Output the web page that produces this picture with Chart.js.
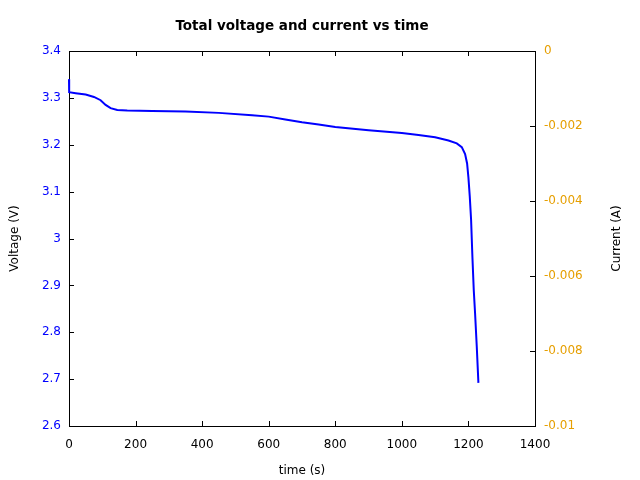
<!DOCTYPE html>
<html>
<head>
<meta charset="utf-8">
<script src="https://cdn.jsdelivr.net/npm/chart.js@4/dist/chart.umd.min.js"></script>
<style>
  html, body { margin: 0; padding: 0; background: #fff; }
  #wrap { width: 640px; height: 480px; }
</style>
</head>
<body>
<div id="wrap"><canvas id="c" width="640" height="480"></canvas></div>
<script>
// time (s) and total voltage (V)
const times = [0, 0.5, 20, 50, 75, 95, 110, 125, 145, 175, 250, 350, 450, 550, 600, 650, 700, 750,
  800, 900, 1000, 1050, 1100, 1140, 1165, 1180, 1190, 1196, 1200, 1204, 1208, 1212, 1216, 1220, 1225, 1230];
const volts = [3.340, 3.312, 3.310, 3.307, 3.302, 3.295, 3.285, 3.278, 3.274, 3.273, 3.272, 3.271, 3.268,
  3.263, 3.260, 3.254, 3.248, 3.243, 3.238, 3.231, 3.225, 3.221, 3.216, 3.209, 3.203, 3.195, 3.180,
  3.160, 3.130, 3.090, 3.040, 2.960, 2.890, 2.840, 2.770, 2.692];

const xRange = [0, 1400, 200];
const vRange = [2.6, 3.4, 0.1];
const iRange = [-0.01, 0, 0.002];

const TITLE = "Total voltage and current vs time";
const Y2_TITLE = "Current (A)";

const BLUE = "#0000ff";
const ORANGE = "#e69f00";
const FONT = "'DejaVu Sans', sans-serif";

// gnuplot-style frame with inward tick marks, plus the title and the
// right-hand axis label (which reads bottom-to-top like the left one)
const framePlugin = {
  id: "frame",
  beforeDatasetsDraw(chart) {
    const { ctx, chartArea: a, scales } = chart;
    const len = 5;
    ctx.save();
    ctx.strokeStyle = "#000";
    ctx.lineWidth = 1;
    ctx.beginPath();
    scales.x.ticks.forEach((t) => {
      const px = Math.round(scales.x.getPixelForValue(t.value)) + 0.5;
      ctx.moveTo(px, a.bottom); ctx.lineTo(px, a.bottom - len);
      ctx.moveTo(px, a.top); ctx.lineTo(px, a.top + len);
    });
    scales.y.ticks.forEach((t) => {
      const py = Math.round(scales.y.getPixelForValue(t.value)) + 0.5;
      ctx.moveTo(a.left, py); ctx.lineTo(a.left + len, py);
    });
    scales.y2.ticks.forEach((t) => {
      const py = Math.round(scales.y2.getPixelForValue(t.value)) + 0.5;
      ctx.moveTo(a.right, py); ctx.lineTo(a.right - len, py);
    });
    ctx.stroke();
    ctx.strokeRect(Math.round(a.left) + 0.5, Math.round(a.top) + 0.5,
      Math.round(a.right - a.left), Math.round(a.bottom - a.top));

    ctx.fillStyle = "#000";
    ctx.textAlign = "center";
    ctx.textBaseline = "middle";
    ctx.font = "bold 13.5px " + FONT;
    ctx.fillText(TITLE, (a.left + a.right) / 2, 26);

    ctx.font = "12px " + FONT;
    ctx.translate(617, (a.top + a.bottom) / 2);
    ctx.rotate(-Math.PI / 2);
    ctx.fillText(Y2_TITLE, 0, 0);
    ctx.restore();
  },
};

new Chart(document.getElementById("c"), {
  type: "line",
  data: {
    datasets: [{
      label: "Voltage",
      data: times.map((t, i) => ({ x: t, y: volts[i] })),
      borderColor: BLUE,
      borderWidth: 2,
      pointRadius: 0,
      tension: 0,
      clip: false,
      yAxisID: "y",
    }],
  },
  options: {
    responsive: false,
    animation: false,
    events: [],
    layout: { padding: { top: 51 } },
    plugins: {
      legend: { display: false },
      tooltip: { enabled: false },
      title: { display: false },
    },
    scales: {
      x: {
        type: "linear",
        min: xRange[0], max: xRange[1],
        grid: { display: false, drawTicks: false },
        border: { display: false },
        ticks: {
          stepSize: xRange[2], color: "#000", padding: 12, font: { family: FONT, size: 12 },
          callback: (v) => String(v),
        },
        title: { display: true, text: "time (s)", color: "#000", font: { family: FONT, size: 12 }, padding: { top: 0, bottom: 2 } },
        afterFit: (s) => { s.height = 54; },
      },
      y: {
        position: "left",
        min: vRange[0], max: vRange[1],
        grid: { display: false, drawTicks: false },
        border: { display: false },
        ticks: {
          stepSize: vRange[2], color: BLUE, padding: 8, font: { family: FONT, size: 12 },
          callback: (v) => String(+v.toFixed(1)),
        },
        title: { display: true, text: "Voltage (V)", color: "#000", font: { family: FONT, size: 12 }, padding: { top: 8, bottom: 0 } },
        afterFit: (s) => { s.width = 69; },
      },
      y2: {
        position: "right",
        min: iRange[0], max: iRange[1],
        grid: { display: false, drawTicks: false },
        border: { display: false },
        ticks: {
          stepSize: iRange[2], color: ORANGE, padding: 9, font: { family: FONT, size: 12 },
          callback: (v) => String(+v.toFixed(3)),
        },
        afterFit: (s) => { s.width = 105; },
      },
    },
  },
  plugins: [framePlugin],
});
</script>
</body>
</html>
